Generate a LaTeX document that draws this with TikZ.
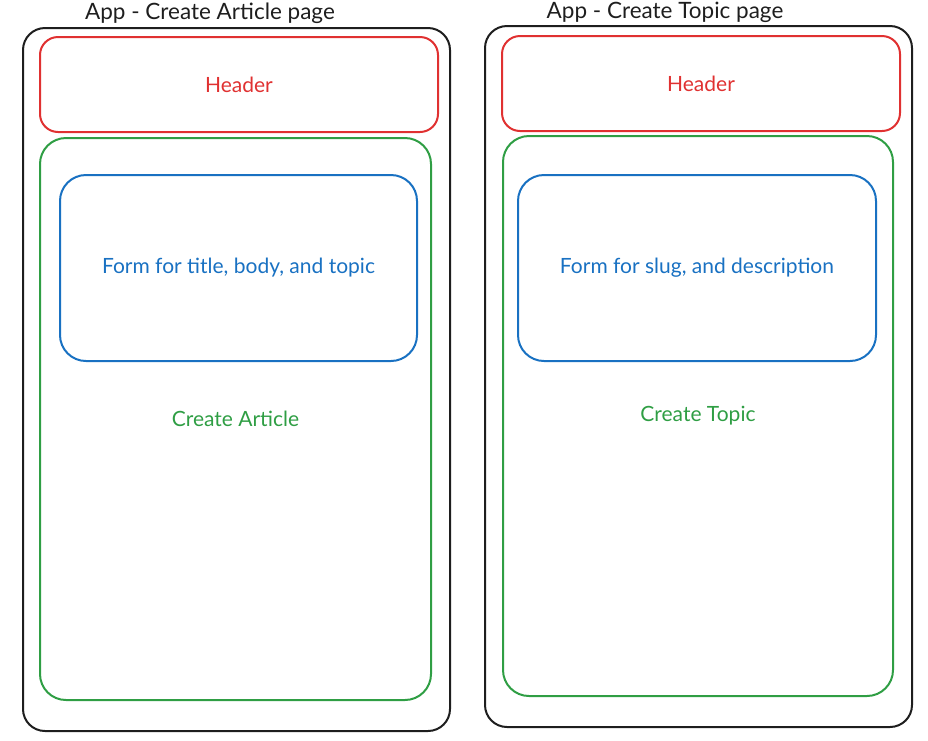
\documentclass[tikz,border=0pt]{standalone}
\usepackage{fontspec}
\setmainfont{Lato}
\usepackage{tikz}
\usetikzlibrary{positioning}
\definecolor{inkblack}{HTML}{1E1E1E}
\definecolor{inkred}{HTML}{E03131}
\definecolor{inkgreen}{HTML}{2F9E44}
\definecolor{inkblue}{HTML}{1971C2}

\begin{document}
\begin{tikzpicture}[x=1pt, y=-1pt,
  box/.style={draw=#1, text=#1, line width=2pt, rounded corners=22pt, inner sep=0pt},
  txt/.style={font=\fontsize{21}{24}\selectfont},
  ttl/.style={font=\fontsize{22.5}{26}\selectfont, text=inkblack}]
\useasboundingbox (0,0) rectangle (928,740);
% article page
\node[box=inkblack, minimum width=427pt, minimum height=703pt] (appA) at (236.5,379.5) {};
\node[ttl] (ttlA) at (210,13) {App - Create Article page};
\node[box=inkred, txt, rounded corners=18pt, minimum width=398pt, minimum height=95pt] (hdrA) at (239,84.5) {Header};
\node[box=inkgreen, txt, rounded corners=26pt, minimum width=391pt, minimum height=562pt] (crtA) at (235.5,419) {Create Article};
\node[box=inkblue, txt, rounded corners=26pt, minimum width=357pt, minimum height=186pt] (frmA) at (238.5,268) {Form for title, body, and topic};
% topic page
\node[box=inkblack, minimum width=427pt, minimum height=701pt] (appT) at (698.5,376.5) {};
\node[ttl] (ttlT) at (665,12) {App - Create Topic page};
\node[box=inkred, txt, rounded corners=18pt, minimum width=398pt, minimum height=95pt] (hdrT) at (701,83.5) {Header};
\node[box=inkgreen, txt, rounded corners=26pt, minimum width=390pt, minimum height=560pt] (crtT) at (698,416) {Create Topic};
\node[box=inkblue, txt, rounded corners=26pt, minimum width=358pt, minimum height=186pt] (frmT) at (697,268) {Form for slug, and description};
\end{tikzpicture}
\end{document}
